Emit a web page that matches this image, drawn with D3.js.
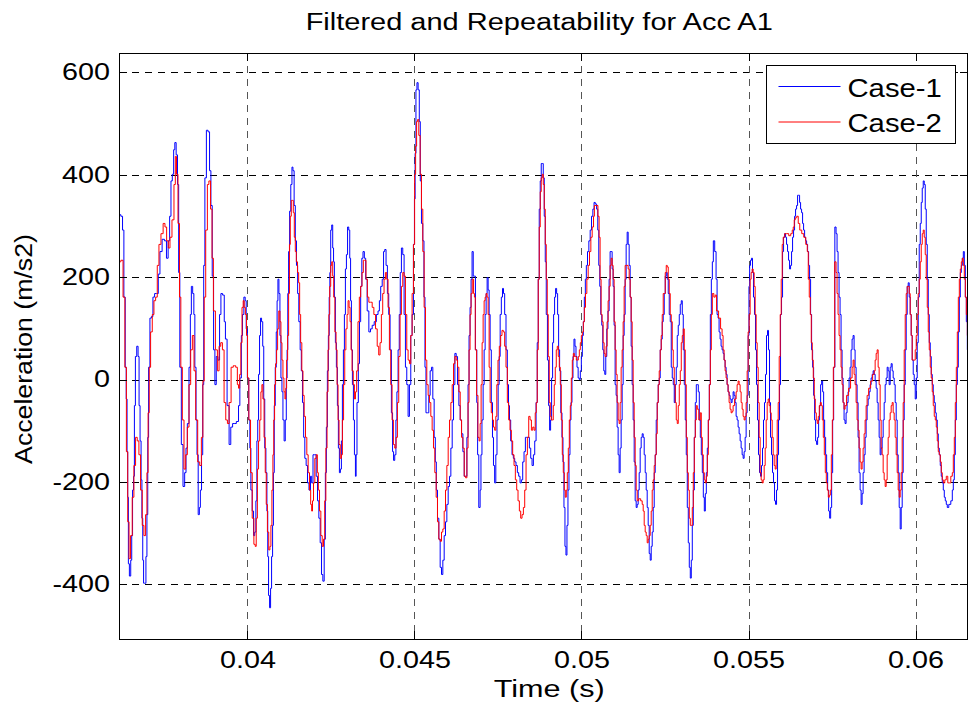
<!DOCTYPE html>
<html>
<head>
<meta charset="utf-8">
<script src="https://cdn.jsdelivr.net/npm/d3@7"></script>
<style>
  body { margin: 0; background: #fff; }
  text { font-family: "Liberation Sans", Arial, Helvetica, sans-serif; fill: #000; }
</style>
</head>
<body>
<div id="chart"></div>
<script>
// Data: [time (ms), acceleration (m/s2)]
var case1Samples = [
[36.145,141],[36.175,322],[36.245,319],[36.275,292],[36.325,161],[36.355,24],[36.385,-38],[36.405,-141],[36.425,-230],[36.445,-360],
[36.485,-384],[36.525,-353],[36.545,-305],[36.575,-216],[36.605,-189],[36.625,-51],[36.665,45],[36.705,65],[36.745,45],[36.765,-51],
[36.805,-120],[36.825,-196],[36.855,-271],[36.875,-353],[36.905,-398],[36.945,-398],[36.975,-346],[37.005,-264],[37.025,-113],[37.055,24],
[37.105,120],[37.145,123],[37.195,161],[37.245,168],[37.305,168],[37.355,206],[37.405,250],[37.485,274],[37.545,271],[37.605,237],
[37.645,271],[37.695,319],[37.725,388],[37.775,401],[37.805,449],[37.845,463],[37.885,439],[37.925,381],[37.955,209],[37.995,24],
[38.045,-127],[38.095,-209],[38.145,-182],[38.175,-134],[38.225,-86],[38.275,24],[38.305,127],[38.335,182],[38.385,168],[38.405,127],
[38.445,24],[38.475,-79],[38.505,-147],[38.545,-264],[38.575,-250],[38.605,-216],[38.645,-147],[38.675,-10],[38.705,223],[38.745,394],
[38.795,487],[38.845,484],[38.885,408],[38.925,340],[38.965,202],[39.005,58],[39.045,-10],[39.085,45],[39.145,38],[39.185,127],
[39.225,168],[39.285,165],[39.325,113],[39.355,79],[39.425,-51],[39.475,-127],[39.525,-93],[39.585,-86],
[39.617,-86],[39.717,-82],[39.747,-51],[39.797,3],[39.837,86],[39.867,127],[39.917,161],[39.947,154],[39.977,99],[40.017,3],
[40.057,-79],[40.087,-134],[40.117,-216],[40.167,-257],[40.197,-305],[40.237,-298],[40.267,-237],[40.297,-120],[40.317,-79],[40.347,10],
[40.377,86],[40.407,120],[40.437,113],[40.477,65],[40.497,-38],[40.537,-134],[40.567,-182],[40.597,-257],[40.617,-346],[40.647,-422],
[40.677,-446],[40.707,-408],[40.737,-346],[40.767,-285],[40.787,-182],[40.817,-51],[40.847,24],[40.877,93],[40.897,154],[40.927,196],
[40.957,168],[40.987,86],[41.017,3],[41.047,-24],[41.077,-79],[41.117,-120],[41.147,-79],[41.177,3],[41.197,58],[41.217,168],
[41.247,250],[41.277,329],[41.317,381],[41.347,415],[41.377,408],[41.417,340],[41.447,271],[41.487,223],[41.517,168],[41.557,113],
[41.597,58],[41.627,17],[41.667,-45],[41.697,-113],[41.737,-154],[41.777,-168],[41.817,-202],[41.867,-216],[41.907,-189],[41.937,-202],
[41.987,-147],[42.037,-147],[42.077,-189],[42.117,-237],[42.157,-271],[42.197,-319],[42.237,-381],[42.277,-394],[42.317,-312],[42.347,-182],
[42.377,-93],[42.407,17],[42.437,86],[42.457,161],[42.477,209],[42.507,292],[42.537,302],[42.567,257],[42.587,230],[42.617,161],
[42.647,72],[42.677,24],[42.707,-51],[42.737,-134],[42.767,-182],[42.797,-175],[42.827,-120],[42.857,-10],[42.887,58],[42.917,127],
[42.947,216],[42.977,244],[43.017,298],[43.047,292],[43.077,237],[43.097,154],[43.127,58],[43.157,-10],[43.187,-79],[43.217,-147],
[43.247,-189],
[43.259,-147],[43.299,-45],[43.339,31],[43.369,113],[43.409,182],[43.439,237],[43.479,250],[43.519,237],[43.559,196],[43.609,134],
[43.659,93],[43.709,99],[43.759,106],[43.829,113],[43.889,127],[43.929,134],[43.969,154],[44.009,182],[44.059,196],[44.089,250],
[44.129,254],[44.169,223],[44.209,168],[44.249,127],[44.289,58],[44.329,-65],[44.359,-141],[44.389,-158],[44.429,-147],[44.459,-79],
[44.489,-24],[44.529,58],[44.559,127],[44.589,209],[44.629,257],[44.669,244],[44.709,127],[44.749,24],[44.789,-10],[44.829,-72],
[44.869,-10],[44.909,86],[44.949,127],[44.989,264],[45.009,353],[45.029,442],[45.059,566],[45.089,580],[45.129,566],[45.159,504],
[45.189,388],[45.229,305],[45.269,271],[45.299,161],[45.329,24],[45.359,-65],[45.409,-65],[45.449,-31],[45.489,17],[45.529,24],
[45.569,-38],[45.609,-113],[45.639,-161],[45.669,-216],[45.709,-271],[45.749,-312],[45.789,-367],[45.829,-381],[45.869,-353],[45.909,-305],
[45.949,-278],[45.989,-244],[46.029,-209],[46.069,-189],[46.109,-134],[46.149,-79],[46.189,-10],[46.229,51],[46.269,45],[46.309,-10],
[46.349,-51],[46.389,-79],[46.429,-106],[46.469,-141],[46.509,-189],[46.549,-189],[46.589,-113],[46.619,-10],[46.649,86],[46.679,141],
[46.709,196],[46.739,250],[46.779,202],
[46.800,202],[46.850,58],[46.880,-45],[46.900,-147],[46.950,-250],[46.980,-216],[47.000,-147],[47.040,-79],[47.070,-10],[47.100,58],
[47.130,127],[47.160,168],[47.190,199],[47.220,175],[47.250,127],[47.280,58],[47.320,-45],[47.350,-113],[47.380,-168],[47.420,-202],
[47.450,-147],[47.490,-79],[47.520,-10],[47.550,45],[47.580,127],[47.620,161],[47.650,178],[47.680,168],[47.720,127],[47.760,58],
[47.800,-10],[47.830,-51],[47.860,-79],[47.900,-120],[47.940,-147],[47.980,-154],[48.020,-161],[48.060,-168],[48.100,-182],[48.140,-189],
[48.180,-202],[48.220,-196],[48.260,-161],[48.300,-141],[48.340,-113],[48.380,-113],[48.420,-113],[48.460,-134],[48.500,-154],[48.540,-168],
[48.580,-147],[48.620,-120],[48.660,-45],[48.690,72],[48.720,196],[48.750,333],[48.780,388],[48.810,422],[48.840,422],[48.870,394],
[48.900,319],[48.930,230],[48.960,127],[49.000,38],[49.030,-51],[49.060,-99],[49.090,-79],[49.120,3],[49.150,72],[49.180,127],
[49.210,161],[49.240,178],[49.270,168],[49.300,127],[49.330,58],[49.360,17],[49.400,-65],[49.430,-113],[49.460,-161],[49.490,-250],
[49.520,-326],[49.550,-343],[49.580,-285],[49.610,-216],[49.640,-147],[49.670,-79],[49.700,-45],[49.730,3],[49.760,45],[49.790,79],
[49.820,65],[49.850,45],[49.880,24],[49.920,3],[49.950,0],[49.980,17],[50.010,45],[50.040,86],[50.070,113],[50.100,161],
[50.130,196],[50.160,223],[50.200,250],[50.240,271],[50.280,292],[50.320,319],[50.360,333],
[50.392,346],[50.432,343],[50.472,333],[50.502,292],[50.532,223],[50.562,182],[50.592,127],[50.622,106],[50.652,58],[50.682,17],
[50.712,10],[50.742,45],[50.772,99],[50.812,134],[50.842,196],[50.872,250],[50.902,250],[50.932,216],[50.962,182],[50.992,106],
[51.022,-10],[51.052,-31],[51.082,-93],[51.112,-147],[51.142,-182],[51.172,-134],[51.202,-79],[51.232,-10],[51.262,86],[51.292,127],
[51.322,196],[51.352,264],[51.382,288],[51.412,264],[51.442,223],[51.472,161],[51.502,65],[51.532,-10],[51.562,-79],[51.592,-161],
[51.622,-237],[51.652,-250],[51.682,-244],[51.712,-216],[51.742,-182],[51.772,-134],[51.802,-113],[51.832,-106],[51.862,-113],[51.892,-147],
[51.922,-182],[51.952,-216],[51.982,-250],[52.012,-285],[52.042,-340],[52.072,-353],[52.102,-326],[52.132,-298],[52.162,-250],[52.192,-182],
[52.222,-147],[52.252,-79],[52.282,-45],[52.312,-10],[52.342,3],[52.372,58],[52.402,79],[52.432,113],[52.462,127],[52.492,168],
[52.522,202],[52.552,209],[52.582,196],[52.612,168],[52.642,127],[52.672,113],[52.702,24],[52.732,3],[52.762,-10],[52.792,-45],
[52.822,-10],[52.852,24],[52.882,86],[52.912,106],[52.942,127],[52.972,147],[53.002,154],[53.032,127],[53.062,58],[53.092,-10],
[53.122,-79],[53.152,-147],[53.182,-250],[53.212,-319],[53.242,-367],[53.272,-388],[53.302,-353],[53.332,-285],[53.362,-216],[53.392,-113],
[53.422,-45],[53.452,-10],[53.482,-10],[53.512,-24],[53.542,-79],[53.572,-113],[53.602,-147],[53.632,-182],[53.662,-230],[53.692,-257],
[53.722,-223],[53.752,-182],[53.782,-134],[53.812,-79],[53.842,-10],[53.872,127],[53.902,196],[53.932,230],[53.962,271],
[54.014,250],[54.044,196],[54.074,127],[54.104,120],[54.134,93],[54.164,79],[54.194,65],[54.224,58],[54.254,51],[54.284,38],
[54.314,24],[54.344,10],[54.374,-10],[54.404,-24],[54.434,-31],[54.464,-38],[54.494,-45],[54.524,-38],[54.554,-24],[54.584,-31],
[54.614,-45],[54.644,-72],[54.674,-79],[54.704,-93],[54.734,-106],[54.764,-120],[54.794,-134],[54.824,-147],[54.854,-154],[54.884,-141],
[54.914,-113],[54.944,-65],[54.974,-31],[55.004,86],[55.024,182],[55.044,223],[55.074,233],[55.104,237],[55.134,209],[55.164,161],
[55.194,127],[55.224,58],[55.254,-10],[55.284,-79],[55.314,-147],[55.344,-182],[55.374,-189],[55.404,-168],[55.434,-134],[55.464,-79],
[55.494,-45],[55.524,10],[55.554,86],[55.584,96],[55.614,58],[55.644,-45],[55.674,-113],[55.704,-147],[55.734,-182],[55.764,-202],
[55.794,-237],[55.824,-244],[55.854,-216],[55.884,-147],[55.914,-79],[55.944,-10],[55.974,127],[56.004,161],[56.034,250],[56.064,278],
[56.094,285],[56.124,278],[56.154,264],[56.184,250],[56.214,233],[56.244,216],[56.274,223],[56.304,250],[56.334,278],[56.364,292],
[56.394,319],[56.424,333],[56.454,340],[56.484,360],[56.514,360],[56.544,346],[56.574,333],[56.604,326],[56.634,305],[56.664,292],
[56.694,278],[56.724,271],[56.754,264],[56.784,250],[56.814,223],[56.844,196],[56.874,127],[56.904,58],[56.934,24],[56.964,-31],
[56.994,-79],[57.024,-120],[57.054,-127],[57.084,-113],[57.114,-79],[57.144,-51],[57.174,-10],[57.204,-3],[57.234,-24],[57.264,-79],
[57.294,-113],[57.324,-147],[57.354,-182],[57.384,-216],[57.414,-257],[57.444,-271],[57.474,-250],[57.504,-182],[57.534,-79],[57.564,24],
[57.606,298],[57.636,285],[57.666,250],[57.696,209],[57.726,161],[57.756,127],[57.786,58],[57.816,3],[57.846,-45],[57.876,-79],
[57.906,-86],[57.936,-65],[57.966,-45],[57.996,-24],[58.026,3],[58.056,24],[58.086,58],[58.116,79],[58.146,86],[58.176,58],
[58.206,24],[58.236,-10],[58.266,-45],[58.296,-113],[58.326,-182],[58.356,-216],[58.386,-244],[58.416,-223],[58.446,-182],[58.476,-147],
[58.506,-113],[58.536,-79],[58.566,-51],[58.596,-38],[58.626,-24],[58.656,-10],[58.686,3],[58.716,10],[58.746,17],[58.776,10],
[58.806,-3],[58.836,-17],[58.866,-45],[58.896,-79],[58.926,-113],[58.956,-147],[58.986,-134],[59.016,-113],[59.046,-79],[59.076,-45],
[59.106,-10],[59.136,3],[59.166,24],[59.196,17],[59.226,-10],[59.256,24],[59.286,31],[59.316,17],[59.346,3],[59.376,-10],
[59.406,-45],[59.436,-79],[59.466,-147],[59.496,-182],[59.526,-250],[59.556,-292],[59.586,-250],[59.616,-182],[59.646,-79],[59.676,-10],
[59.706,58],[59.736,127],[59.766,182],[59.796,189],[59.826,161],[59.856,127],[59.886,86],[59.916,38],[59.946,10],[59.976,-10],
[60.006,-38],[60.036,3],[60.066,72],[60.096,161],[60.126,264],[60.156,305],[60.186,346],[60.216,374],[60.246,388],[60.276,381],
[60.306,333],[60.336,264],[60.366,196],[60.396,127],[60.426,72],[60.456,45],[60.486,10],[60.516,-10],[60.546,-31],[60.576,-45],
[60.606,-65],[60.636,-79],[60.666,-106],[60.696,-134],[60.726,-147],[60.756,-168],[60.786,-189],[60.816,-202],[60.846,-216],[60.876,-230],
[60.906,-237],[60.936,-244],[60.966,-250],[61.026,-244],[61.086,-237],[61.116,-216],[61.146,-196],[61.176,-147],[61.206,-79],[61.236,-10],
[61.266,24],[61.296,93],[61.326,161],[61.356,209],[61.386,223],[61.416,237],[61.446,250],[61.476,223],[61.506,161],[61.536,113],
[61.566,58]
];

var case2Samples = [
[36.145,17],[36.175,230],[36.245,233],[36.305,161],[36.355,24],[36.395,-141],[36.435,-278],[36.475,-350],[36.525,-305],[36.575,-230],
[36.625,-168],[36.675,-113],[36.725,-120],[36.775,-147],[36.825,-216],[36.875,-285],[36.925,-305],[36.975,-264],[37.005,-182],[37.045,-65],
[37.075,24],[37.125,93],[37.175,127],[37.225,154],[37.275,161],[37.325,223],[37.375,264],[37.445,285],[37.505,305],[37.555,298],
[37.605,271],[37.655,257],[37.705,278],[37.775,312],[37.825,381],[37.855,436],[37.895,401],[37.945,305],[37.985,161],[38.025,24],
[38.075,-79],[38.125,-175],[38.175,-147],[38.225,-93],[38.275,-10],[38.325,58],[38.375,86],[38.425,17],[38.475,-79],[38.545,-161],
[38.595,-168],[38.645,-113],[38.685,-3],[38.725,161],[38.775,292],[38.825,381],[38.865,388],[38.925,333],[38.955,237],[39.005,134],
[39.075,58],[39.125,17],[39.175,65],[39.225,72],[39.275,58],[39.325,-45],[39.375,-79],[39.425,-86],[39.475,-45],[39.545,24],
[39.605,27],
[39.617,27],[39.677,24],[39.717,-10],[39.747,-17],[39.787,10],[39.817,72],[39.857,141],[39.887,154],[39.917,141],[39.957,127],
[39.987,86],[40.017,3],[40.067,-79],[40.117,-182],[40.167,-271],[40.217,-322],[40.247,-326],[40.277,-271],[40.317,-175],[40.347,-120],
[40.387,-79],[40.417,-24],[40.447,-10],[40.477,-38],[40.517,-113],[40.547,-182],[40.577,-244],[40.617,-298],[40.657,-333],[40.687,-326],
[40.717,-285],[40.747,-216],[40.777,-147],[40.797,-79],[40.827,-10],[40.857,31],[40.887,58],[40.917,99],[40.957,134],[40.987,113],
[41.017,72],[41.047,38],[41.077,3],[41.107,-24],[41.137,-38],[41.157,-17],[41.187,38],[41.217,86],[41.247,168],[41.267,264],
[41.297,319],[41.327,350],[41.357,350],[41.387,326],[41.417,278],[41.447,250],[41.477,230],[41.517,209],[41.547,189],[41.577,127],
[41.607,72],[41.647,17],[41.677,-31],[41.717,-72],[41.757,-113],[41.797,-147],[41.837,-182],[41.877,-216],[41.907,-244],[41.937,-257],
[41.957,-237],[41.997,-202],[42.037,-154],[42.077,-147],[42.107,-182],[42.137,-216],[42.177,-257],[42.217,-305],[42.257,-326],[42.297,-312],
[42.327,-237],[42.367,-134],[42.397,-24],[42.427,58],[42.447,127],[42.477,182],[42.507,223],[42.537,230],[42.567,202],[42.597,161],
[42.637,93],[42.667,58],[42.697,-10],[42.727,-79],[42.757,-127],[42.797,-154],[42.827,-147],[42.857,-79],[42.897,-10],[42.927,58],
[42.967,99],[42.997,127],[43.027,154],[43.057,141],[43.087,113],[43.117,58],[43.147,17],[43.187,-10],[43.217,-38],
[43.249,-24],[43.289,17],[43.329,113],[43.369,161],[43.409,182],[43.449,209],[43.489,233],[43.529,233],[43.569,196],[43.609,161],
[43.659,151],[43.709,151],[43.759,141],[43.809,127],[43.859,99],[43.909,65],[43.949,48],[43.989,72],[44.029,127],[44.069,168],
[44.109,196],[44.149,209],[44.189,196],[44.229,141],[44.269,58],[44.309,-10],[44.349,-79],[44.389,-127],[44.429,-134],[44.469,-113],
[44.509,-45],[44.549,45],[44.589,127],[44.629,182],[44.669,209],[44.709,202],[44.749,127],[44.789,58],[44.829,38],[44.869,31],
[44.909,86],[44.949,168],[44.989,264],[45.019,401],[45.049,456],[45.079,504],[45.109,508],[45.149,477],[45.189,401],[45.229,333],
[45.269,250],[45.309,141],[45.349,38],[45.389,-10],[45.429,-31],[45.469,-45],[45.509,-72],[45.549,-99],[45.589,-134],[45.629,-182],
[45.669,-230],[45.709,-278],[45.749,-312],[45.789,-316],[45.829,-298],[45.869,-292],[45.909,-257],[45.949,-216],[45.989,-168],[46.029,-113],
[46.069,-79],[46.109,-45],[46.149,-10],[46.189,31],[46.229,45],[46.269,38],[46.309,24],[46.349,-24],[46.389,-79],[46.429,-113],
[46.469,-134],[46.509,-189],[46.549,-192],[46.589,-134],[46.619,-45],[46.649,58],[46.679,127],[46.709,168],[46.749,196],[46.789,168],
[46.800,161],[46.840,58],[46.880,-31],[46.920,-113],[46.950,-120],[46.980,-86],[47.010,-10],[47.040,72],[47.070,127],[47.100,154],
[47.130,161],[47.160,168],[47.190,161],[47.220,127],[47.250,24],[47.280,-45],[47.320,-65],[47.350,-79],[47.380,-93],[47.420,-99],
[47.450,-72],[47.480,-10],[47.520,38],[47.560,65],[47.600,86],[47.640,96],[47.680,93],[47.720,65],[47.760,24],[47.800,-45],
[47.840,-79],[47.880,-99],[47.920,-120],[47.960,-147],[48.000,-168],[48.040,-196],[48.080,-216],[48.120,-237],[48.160,-257],[48.200,-271],
[48.240,-264],[48.280,-250],[48.320,-216],[48.360,-147],[48.400,-113],[48.440,-72],[48.480,-79],[48.520,-99],[48.560,-93],[48.600,-99],
[48.630,-65],[48.660,-45],[48.690,58],[48.720,196],[48.750,298],[48.780,367],[48.810,394],[48.840,401],[48.870,381],[48.900,333],
[48.930,264],[48.960,196],[48.990,127],[49.020,45],[49.050,-45],[49.080,-72],[49.110,-79],[49.140,-79],[49.170,-51],[49.200,-10],
[49.230,24],[49.260,58],[49.290,65],[49.320,45],[49.350,24],[49.380,-10],[49.410,-79],[49.440,-147],[49.470,-182],[49.500,-216],
[49.530,-230],[49.560,-216],[49.590,-182],[49.620,-134],[49.650,-79],[49.680,-51],[49.710,3],[49.740,38],[49.770,51],[49.800,45],
[49.830,45],[49.860,38],[49.890,38],[49.920,45],[49.950,58],[49.980,72],[50.010,86],[50.040,93],[50.070,113],[50.100,141],
[50.140,168],[50.180,196],[50.220,223],[50.260,250],[50.300,278],[50.340,298],[50.380,319],
[50.392,340],[50.472,340],[50.512,319],[50.542,278],[50.572,196],[50.602,127],[50.632,113],[50.662,72],[50.692,51],[50.722,45],
[50.752,65],[50.782,113],[50.812,154],[50.842,182],[50.872,223],[50.902,237],[50.932,223],[50.962,196],[50.992,113],[51.022,58],
[51.052,10],[51.082,-45],[51.112,-79],[51.142,-86],[51.172,-45],[51.202,24],[51.232,58],[51.262,113],[51.292,182],[51.322,223],
[51.382,223],[51.412,216],[51.442,196],[51.472,161],[51.502,113],[51.532,38],[51.562,-45],[51.592,-113],[51.622,-168],[51.652,-216],
[51.682,-237],[51.742,-233],[51.802,-237],[51.832,-244],[51.862,-257],[51.892,-285],[51.922,-298],[51.952,-305],[51.982,-319],[52.012,-312],
[52.042,-305],[52.072,-285],[52.102,-257],[52.132,-216],[52.162,-196],[52.192,-168],[52.222,-147],[52.252,-106],[52.282,-45],[52.312,-10],
[52.342,17],[52.372,58],[52.402,86],[52.432,127],[52.462,168],[52.492,168],[52.522,209],[52.552,223],[52.582,220],[52.612,196],
[52.642,168],[52.672,127],[52.702,113],[52.732,58],[52.762,24],[52.792,-10],[52.822,-45],[52.852,-79],[52.882,-86],[52.912,-51],
[52.942,-10],[52.972,17],[53.002,72],[53.032,86],[53.062,99],[53.092,58],[53.122,-10],[53.152,-113],[53.182,-182],[53.212,-216],
[53.242,-271],[53.272,-285],[53.302,-285],[53.332,-250],[53.362,-182],[53.392,-113],[53.422,-79],[53.452,-51],[53.482,-58],[53.542,-79],
[53.572,-65],[53.602,-113],[53.632,-147],[53.662,-182],[53.692,-196],[53.722,-202],[53.752,-189],[53.782,-147],[53.812,-79],[53.842,-10],
[53.872,58],[53.902,127],[53.932,168],[53.992,161],
[54.014,165],[54.074,134],[54.134,120],[54.194,99],[54.224,86],[54.254,58],[54.284,38],[54.314,17],[54.344,3],[54.374,-10],
[54.404,-24],[54.434,-45],[54.464,-58],[54.494,-65],[54.524,-62],[54.554,-51],[54.614,-38],[54.644,-24],[54.674,-10],[54.704,-3],
[54.734,-10],[54.764,-24],[54.794,-45],[54.824,-58],[54.854,-72],[54.884,-79],[54.914,-72],[54.944,-45],[54.974,17],[55.004,93],
[55.034,127],[55.064,196],[55.094,209],[55.124,216],[55.154,209],[55.184,182],[55.214,127],[55.244,72],[55.274,24],[55.304,-45],
[55.334,-113],[55.364,-182],[55.394,-196],[55.424,-202],[55.454,-196],[55.484,-168],[55.514,-134],[55.544,-79],[55.574,-45],[55.604,-38],
[55.634,-51],[55.664,-65],[55.694,-79],[55.724,-113],[55.754,-147],[55.784,-168],[55.814,-175],[55.844,-147],[55.874,-79],[55.904,-45],
[55.934,45],[55.964,127],[55.994,196],[56.024,264],[56.054,278],[56.114,285],[56.174,285],[56.234,281],[56.294,285],[56.324,292],
[56.354,298],[56.384,312],[56.414,316],[56.474,319],[56.504,305],[56.564,292],[56.624,285],[56.684,278],[56.744,264],[56.774,250],
[56.804,196],[56.834,161],[56.864,127],[56.894,72],[56.924,38],[56.954,3],[56.984,-38],[57.014,-65],[57.044,-79],[57.074,-86],
[57.104,-72],[57.134,-51],[57.164,-45],[57.194,-51],[57.224,-79],[57.254,-113],[57.284,-147],[57.314,-182],[57.344,-202],[57.374,-216],
[57.404,-230],[57.434,-226],[57.464,-216],[57.494,-147],[57.524,-79],[57.554,24],
[57.606,230],[57.636,209],[57.666,168],[57.696,127],[57.726,86],[57.756,58],[57.786,24],[57.816,-10],[57.846,-45],[57.876,-58],
[57.906,-51],[57.966,-31],[58.026,-17],[58.086,3],[58.116,24],[58.146,38],[58.176,10],[58.206,-10],[58.236,-45],[58.266,-79],
[58.296,-99],[58.326,-134],[58.356,-161],[58.386,-175],[58.416,-161],[58.446,-134],[58.476,-106],[58.506,-79],[58.536,-51],[58.566,-31],
[58.626,-17],[58.686,-3],[58.746,10],[58.776,17],[58.806,38],[58.836,51],[58.866,58],[58.896,24],[58.926,-10],[58.956,-79],
[58.986,-134],[59.016,-147],[59.046,-182],[59.076,-196],[59.106,-209],[59.136,-196],[59.166,-147],[59.196,-113],[59.226,-79],[59.256,-65],
[59.286,-51],[59.316,-45],[59.346,-65],[59.376,-79],[59.406,-113],[59.436,-147],[59.466,-182],[59.496,-216],[59.526,-230],[59.556,-216],
[59.586,-182],[59.616,-113],[59.646,-45],[59.676,58],[59.706,127],[59.736,168],[59.766,182],[59.796,182],[59.826,168],[59.856,127],
[59.886,86],[59.916,38],[59.976,38],[60.006,58],[60.036,86],[60.066,127],[60.096,168],[60.126,196],[60.156,230],[60.186,264],
[60.216,285],[60.246,292],[60.276,278],[60.306,244],[60.336,196],[60.366,141],[60.396,93],[60.426,58],[60.456,24],[60.486,3],
[60.516,-24],[60.546,-51],[60.576,-72],[60.606,-79],[60.636,-93],[60.666,-120],[60.696,-141],[60.726,-147],[60.756,-161],[60.786,-182],
[60.816,-196],[60.846,-202],[60.906,-196],[60.936,-189],[60.996,-202],[61.026,-202],[61.086,-189],[61.116,-182],[61.146,-147],[61.176,-113],
[61.206,-45],[61.236,24],[61.266,93],[61.296,161],[61.326,196],[61.356,216],[61.386,230],[61.416,237],[61.446,223],[61.476,196],
[61.506,161],[61.536,127],[61.566,86]
];

var seriesNames = ["Case-1", "Case-2"];
var seriesColors = ["#0000ff", "#ff0000"];
var xTicks = [0.04, 0.045, 0.05, 0.055, 0.06];
var yTicks = [-400, -200, 0, 200, 400, 600];
var xLimits = [0.036154, 0.061556];
var yLimits = [-507, 638];
var titleText = "Filtered and Repeatability for Acc A1";
var xLabelText = "Time (s)";
var yLabelText = "Acceleration (m/s2)";

//Sizes
var totalWidth = 969, totalHeight = 708;
var margin = {top: 53, right: 1.5, bottom: 69, left: 119};
var width = totalWidth - margin.left - margin.right;
var height = totalHeight - margin.top - margin.bottom;
var fontSize = 23;

//MATLAB export looks wider than the font, so stretch texts horizontally
function stretch(sel, k) {
    sel.each(function() {
        var w = this.getComputedTextLength();
        d3.select(this).attr("textLength", w * k).attr("lengthAdjust", "spacingAndGlyphs");
    });
}

var svg = d3.select("#chart").append("svg")
    .attr("width", totalWidth)
    .attr("height", totalHeight)
    .style("display", "block")
    .style("background", "#fff");

var g = svg.append("g")
    .attr("transform", "translate(" + margin.left + "," + margin.top + ")");

var x = d3.scaleLinear().domain(xLimits).range([0, width]);
var y = d3.scaleLinear().domain(yLimits).range([height, 0]);

//Grid lines
g.append("g").selectAll("line")
    .data(yTicks)
    .enter().append("line")
    .attr("x1", 0).attr("x2", width)
    .attr("y1", function(d) { return Math.round(y(d)) + 0.5; })
    .attr("y2", function(d) { return Math.round(y(d)) + 0.5; })
    .attr("stroke", "#000")
    .attr("stroke-dasharray", "7,6")
    .attr("shape-rendering", "crispEdges");

g.append("g").selectAll("line")
    .data(xTicks)
    .enter().append("line")
    .attr("y1", 0).attr("y2", height)
    .attr("x1", function(d) { return Math.round(x(d)) + 0.5; })
    .attr("x2", function(d) { return Math.round(x(d)) + 0.5; })
    .attr("stroke", "#555")
    .attr("stroke-dasharray", "7,6")
    .attr("shape-rendering", "crispEdges");

//Data lines (sampled signal, drawn as fine stairs like the original plot)
svg.append("defs").append("clipPath").attr("id", "plotClip")
    .append("rect").attr("width", width).attr("height", height);

var line = d3.line()
    .curve(d3.curveStep)
    .x(function(d) { return x(d[0] / 1000); })
    .y(function(d) { return y(d[1]); });

var series = [case1Samples, case2Samples];
g.append("g").attr("clip-path", "url(#plotClip)")
    .selectAll("path")
    .data(series)
    .enter().append("path")
    .attr("d", line)
    .attr("fill", "none")
    .attr("stroke", function(d, i) { return seriesColors[i]; })
    .attr("stroke-width", 1);

//Axes, ticks pointing inward like MATLAB
var fmtX = function(d) { return String(+d.toFixed(3)); };
var fmtY = function(d) { return String(d); };

var xAxis = g.append("g").attr("transform", "translate(0," + height + ")")
    .call(d3.axisBottom(x).tickValues(xTicks).tickSize(-8).tickPadding(13).tickFormat(fmtX));
var xTop = g.append("g")
    .call(d3.axisTop(x).tickValues(xTicks).tickSize(-8).tickFormat(""));
var yAxis = g.append("g")
    .call(d3.axisLeft(y).tickValues(yTicks).tickSize(-8).tickPadding(9).tickFormat(fmtY));
var yRight = g.append("g").attr("transform", "translate(" + width + ",0)")
    .call(d3.axisRight(y).tickValues(yTicks).tickSize(-8).tickFormat(""));

[xAxis, xTop, yAxis, yRight].forEach(function(a) {
    a.select(".domain").remove();
    a.selectAll("line").attr("stroke", "#000").attr("shape-rendering", "crispEdges");
    a.selectAll("text")
        .style("font-size", fontSize + "px")
        .style("font-family", "'Liberation Sans', Arial, sans-serif")
        .attr("fill", "#000");
});
stretch(xAxis.selectAll("text"), 1.25);
stretch(yAxis.selectAll("text"), 1.25);

//Box
g.append("rect")
    .attr("x", 0.5).attr("y", 0.5)
    .attr("width", width - 1).attr("height", height)
    .attr("fill", "none")
    .attr("stroke", "#000")
    .attr("shape-rendering", "crispEdges");

//Title and labels
var title = svg.append("text")
    .attr("x", margin.left + width / 2 - 4)
    .attr("y", 30)
    .attr("text-anchor", "middle")
    .style("font-size", fontSize + "px")
    .text(titleText);
stretch(title, 1.26);

var xLabel = svg.append("text")
    .attr("x", margin.left + width / 2 + 6)
    .attr("y", 697)
    .attr("text-anchor", "middle")
    .style("font-size", fontSize + "px")
    .text(xLabelText);
stretch(xLabel, 1.33);

var yLabel = svg.append("text")
    .attr("transform", "translate(32," + (margin.top + height / 2 + 3) + ") rotate(-90)")
    .attr("text-anchor", "middle")
    .style("font-size", fontSize + "px")
    .text(yLabelText);
stretch(yLabel, 1.16);

//Legend
var legendW = 189, legendH = 78;
var legend = g.append("g")
    .attr("transform", "translate(" + (width - 13 - legendW) + ",12)");

legend.append("rect")
    .attr("x", 0.5).attr("y", 0.5)
    .attr("width", legendW).attr("height", legendH)
    .attr("fill", "#fff")
    .attr("stroke", "#000")
    .attr("shape-rendering", "crispEdges");

var item = legend.selectAll(".legend")
    .data(seriesNames)
    .enter().append("g")
    .attr("class", "legend")
    .attr("transform", function(d, i) { return "translate(0," + (21.5 + i * 35.5) + ")"; });

item.append("line")
    .attr("x1", 13).attr("x2", 75)
    .attr("y1", 0).attr("y2", 0)
    .attr("stroke", function(d, i) { return seriesColors[i]; })
    .attr("stroke-width", 1);

var legendText = item.append("text")
    .attr("x", 82)
    .attr("y", 10)
    .style("font-size", "25px")
    .text(function(d) { return d; });
stretch(legendText, 1.17);
</script>
</body>
</html>
